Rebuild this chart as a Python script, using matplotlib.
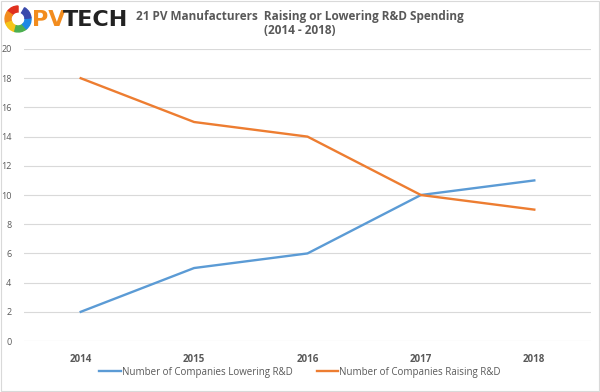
import matplotlib
matplotlib.use("Agg")
import matplotlib.pyplot as plt
from matplotlib.patches import Wedge, Rectangle

years = ["2014", "2015", "2016", "2017", "2018"]
lowering = [2, 5, 6, 10, 11]
raising = [18, 15, 14, 10, 9]
yticks = [0, 2, 4, 6, 8, 10, 12, 14, 16, 18, 20]

grey = "#595959"
plt.rcParams['font.family'] = ['Open Sans', 'DejaVu Sans']

fig = plt.figure(figsize=(6, 3.92), dpi=100)
ax = fig.add_axes([0.04, 0.13, 0.945, 0.745])

x = list(range(len(years)))
ax.plot(x, lowering, color="#5B9BD5", lw=1.7, label="Number of Companies Lowering R&D")
ax.plot(x, raising, color="#ED7D31", lw=1.7, label="Number of Companies Raising R&D")

ax.set_xlim(-0.5, len(years) - 0.5)
ax.set_ylim(0, 20)
ax.set_yticks(yticks)
ax.set_xticks(x)
ax.set_xticklabels(years)
ax.tick_params(length=0, labelsize=6.5, labelcolor=grey)
ax.tick_params(axis="y", pad=9)
ax.tick_params(axis="x", pad=9, labelsize=7)
for lab in ax.get_xticklabels():
    lab.set_fontweight("bold")
ax.grid(axis="y", color="#d9d9d9", lw=0.8)
ax.set_axisbelow(True)
for s in ax.spines.values():
    s.set_visible(False)

fig.legend(loc="center", bbox_to_anchor=(0.5, 0.051), ncol=2, frameon=False,
           fontsize=7, labelcolor=grey, handlelength=2.2, handletextpad=0.1,
           columnspacing=2.5)

fig.text(0.5, 0.957, "21 PV Manufacturers  Raising or Lowering R&D Spending",
         ha="center", va="center", fontsize=8.5, fontweight="bold", color=grey)
fig.text(0.5, 0.921, "(2014 - 2018)", ha="center", va="center",
         fontsize=8.5, fontweight="bold", color=grey)

# logo
lax = fig.add_axes([0, 0.87, 0.23, 0.13])
lax.set_xlim(0, 138)
lax.set_ylim(0, 51)
lax.set_aspect("equal")
lax.axis("off")
ring = ["#e0301e", "#f28c1e", "#f5c518", "#4caf50", "#1e88e5", "#3949ab"]
for i, c in enumerate(ring):
    lax.add_patch(Wedge((18, 32), 13, 90 + i * 55, 90 + (i + 1) * 55, width=6, color=c))
lax.text(32, 31, "PV", color="#f28c1e", fontsize=16, fontweight="bold",
         va="center", ha="left", family="DejaVu Sans")
lax.text(63, 31, "TECH", color="#222222", fontsize=16, fontweight="bold",
         va="center", ha="left", family="DejaVu Sans")

fig.patches.append(Rectangle((0.002, 0.003), 0.996, 0.994, transform=fig.transFigure,
                             fill=False, ec="#d9d9d9", lw=0.8))

fig.savefig("out.png", dpi=100)
